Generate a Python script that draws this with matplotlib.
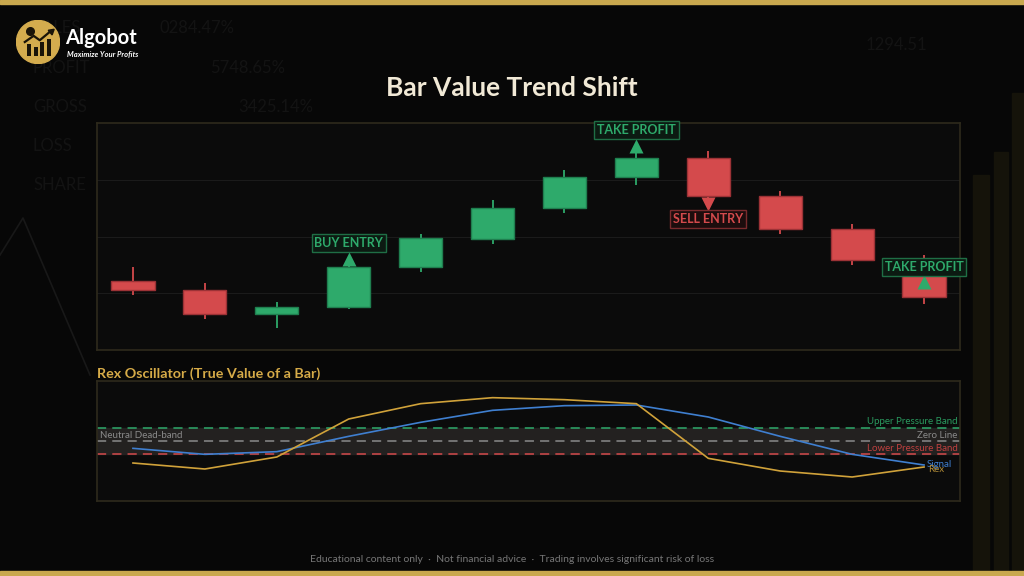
import numpy as np
import matplotlib.pyplot as plt
import matplotlib.transforms as mtransforms
from matplotlib.patches import Rectangle, Circle

plt.rcParams['font.family'] = ['Lato', 'DejaVu Sans']

# candles
opens = [100.44, 100.10, 99.27, 99.50, 100.91, 101.92, 102.99, 104.09, 104.76, 103.42, 102.28, 101.20]
closes = [100.10, 99.27, 99.53, 100.94, 101.94, 103.00, 104.10, 104.76, 103.42, 102.26, 101.17, 99.86]
highs = [100.93, 100.35, 99.69, 101.00, 102.10, 103.28, 104.34, 104.99, 105.00, 103.59, 102.45, 101.35]
lows = [99.93, 99.10, 98.79, 99.43, 100.75, 101.75, 102.84, 103.83, 103.35, 102.09, 101.01, 99.61]

# oscillator
rex = [-0.33, -0.42, -0.24, 0.33, 0.56, 0.65, 0.62, 0.56, -0.26, -0.45, -0.54, -0.39]
signal = [-0.11, -0.20, -0.16, 0.07, 0.28, 0.46, 0.53, 0.54, 0.36, 0.07, -0.20, -0.36]
band = 0.2

# trade signals: bar index, label, kind
sig_idx = [3, 7, 8, 11]
sig_text = ['BUY ENTRY', 'TAKE PROFIT', 'SELL ENTRY', 'TAKE PROFIT']
sig_kind = ['buy', 'tp', 'sell', 'tp_short']

GREEN = '#2eaa6b'
RED = '#d44a4c'
GOLD = '#c9a84e'
BG = '#070707'
PANEL = '#0b0b0b'
EDGE = '#2e2a1c'

fig = plt.figure(figsize=(10.24, 5.76), dpi=100)
fig.patch.set_facecolor(BG)

# faint background decoration
bg_words = [('SALES', 33, 28), ('0284.47%', 160, 28), ('PROFIT', 33, 68), ('5748.65%', 210, 68),
            ('GROSS', 33, 107), ('3425.14%', 238, 107), ('LOSS', 33, 146), ('SHARE', 33, 185),
            ('1294.51', 866, 45)]
for w, px, py in bg_words:
    fig.text(px / 1024, 1 - py / 576, w, color='#131313', fontsize=12, va='center', ha='left',
             zorder=-2)
for bx, by, bw in [(973, 175, 16), (994, 152, 14), (1012, 93, 12)]:
    fig.patches.append(Rectangle((bx / 1024, 0), bw / 1024, 1 - by / 576, transform=fig.transFigure,
                                 color='#15130a', zorder=-2))
fig.add_artist(plt.Line2D([0, 23 / 1024, 90 / 1024], [1 - 255 / 576, 1 - 218 / 576, 1 - 375 / 576],
                          transform=fig.transFigure, color='#181818', lw=1.2, zorder=-2))

# gold borders
fig.patches.append(Rectangle((0, 1 - 4 / 576), 1, 4 / 576, transform=fig.transFigure, color=GOLD, zorder=5))
fig.patches.append(Rectangle((0, 0), 1, 5 / 576, transform=fig.transFigure, color=GOLD, zorder=5))

# logo (square axes so the badge stays round)
logo = fig.add_axes([16 / 1024, 1 - 64 / 576, 44 / 1024, 44 / 576])
logo.set_xlim(0, 10)
logo.set_ylim(0, 10)
logo.axis('off')
logo.add_patch(Circle((5, 5), 4.9, color='#d4ac4e'))
logo.bar([3.0, 4.5, 6.0, 7.5], [2.6, 2.0, 3.0, 3.8], bottom=1.9, width=0.9, color='#1a1408')
logo.plot([2.0, 4.0, 5.4, 7.8], [5.0, 6.4, 5.4, 7.4], color='#1a1408', lw=1.6)
logo.plot(7.9, 7.5, marker=(3, 0, -50), color='#1a1408', ms=5)
logo.plot(3.2, 7.6, marker='o', color='#1a1408', ms=5.5)
fig.text(65 / 1024, 1 - 38 / 576, 'Algobot', color='white', fontsize=14.5, fontweight='bold', va='center')
fig.text(67 / 1024, 1 - 54 / 576, 'Maximize Your Profits', color='white', fontsize=5.5,
         fontweight='bold', fontstyle='italic', va='center')

# title
fig.text(0.5, 1 - 88 / 576, 'Bar Value Trend Shift', color='#f1e9d6', fontsize=19,
         fontweight='bold', ha='center', va='center')

# price panel
ax = fig.add_axes([97 / 1024, 1 - 350 / 576, 863 / 1024, 227 / 576])
ax.set_facecolor(PANEL)
for s in ax.spines.values():
    s.set_color(EDGE)
    s.set_linewidth(1.2)
ax.set_xlim(-0.5, len(opens) - 0.5)
ax.set_ylim(98, 106)
ax.set_yticks([100, 102, 104])
ax.set_xticks([])
ax.tick_params(length=0, labelleft=False)
ax.grid(axis='y', color='#1b1b1b', lw=0.8)
ax.set_axisbelow(True)

x = np.arange(len(opens))
o = np.array(opens)
c = np.array(closes)
up = c >= o
cols = np.where(up, GREEN, RED)
edges = np.where(up, '#1f7f4f', '#9c3236')
ax.vlines(x, lows, highs, colors=cols, lw=1.3, zorder=2)
ax.bar(x, np.abs(c - o), bottom=np.minimum(o, c), width=0.6, color=cols,
       edgecolor=edges, linewidth=1, zorder=3)

# markers and labels, offsets in points from the candle
box_green = dict(boxstyle='square,pad=0.22', fc='#0c1a12', ec='#1f6e45', lw=1)
box_red = dict(boxstyle='square,pad=0.22', fc='#1c0d0d', ec='#7a2b2d', lw=1)
for i, txt, kind in zip(sig_idx, sig_text, sig_kind):
    if kind in ('buy', 'tp'):
        ref, mk, mdy, ldy, col, box = highs[i], '^', 4.3, 15.6, GREEN, box_green
    elif kind == 'sell':
        ref, mk, mdy, ldy, col, box = lows[i], 'v', -4.2, -14.9, RED, box_red
    else:
        ref, mk, mdy, ldy, col, box = closes[i], '^', 10.8, 21.8, GREEN, box_green
    tr = mtransforms.offset_copy(ax.transData, fig=fig, x=0, y=mdy, units='points')
    ax.plot(i, ref, marker=mk, ms=10, color=col, mec='none', transform=tr, zorder=5)
    ax.annotate(txt, xy=(i, ref), xytext=(0, ldy), textcoords='offset points', ha='center',
                va='center', color=col, fontsize=9, fontweight='bold', bbox=box, zorder=6,
                annotation_clip=False)

# oscillator panel
fig.text(97 / 1024, 1 - 374 / 576, 'Rex Oscillator (True Value of a Bar)', color='#d6ab48',
         fontsize=10.3, fontweight='bold', va='center', ha='left')
ox = fig.add_axes([97 / 1024, 1 - 501 / 576, 863 / 1024, 120 / 576])
ox.set_facecolor(PANEL)
for s in ox.spines.values():
    s.set_color(EDGE)
    s.set_linewidth(1.2)
ox.set_xlim(-0.5, len(rex) - 0.5)
ox.set_ylim(-0.9, 0.9)
ox.set_xticks([])
ox.set_yticks([])
ox.axhspan(-band, band, color='#232120', zorder=0)
ox.axhline(band, color='#2eaa6b', lw=1.1, ls=(0, (6, 4)), zorder=1)
ox.axhline(0, color='#8a8a8a', lw=1.1, ls=(0, (6, 4)), zorder=1)
ox.axhline(-band, color='#d44a4c', lw=1.1, ls=(0, (6, 4)), zorder=1)
ox.plot(x, signal, color='#3f7fd0', lw=1.2, zorder=3)
ox.plot(x, rex, color='#d0a23a', lw=1.2, zorder=3)

ytr = ox.get_yaxis_transform()
ox.text(0.997, band + 0.02, 'Upper Pressure Band', transform=ytr, color='#2a9a5f', fontsize=7,
        ha='right', va='bottom')
ox.text(0.997, 0.02, 'Zero Line', transform=ytr, color='#8a8a8a', fontsize=7, ha='right', va='bottom')
ox.text(0.997, -band + 0.02, 'Lower Pressure Band', transform=ytr, color='#c0403f', fontsize=7,
        ha='right', va='bottom')
ox.text(0.004, 0.02, 'Neutral Dead-band', transform=ytr, color='#8a8a8a', fontsize=7, ha='left',
        va='bottom')
ox.annotate('Signal', xy=(x[-1], signal[-1]), xytext=(2, 0), textcoords='offset points',
            color='#3f7fd0', fontsize=7, va='center', ha='left')
ox.annotate('Rex', xy=(x[-1], rex[-1]), xytext=(3, -2), textcoords='offset points',
            color='#b08a35', fontsize=7, va='center', ha='left')

fig.text(0.5, 1 - 559 / 576,
         'Educational content only  \u00b7  Not financial advice  \u00b7  Trading involves significant risk of loss',
         color='#767676', fontsize=7.5, ha='center', va='center')

fig.savefig('out.png', dpi=100, facecolor=BG)
